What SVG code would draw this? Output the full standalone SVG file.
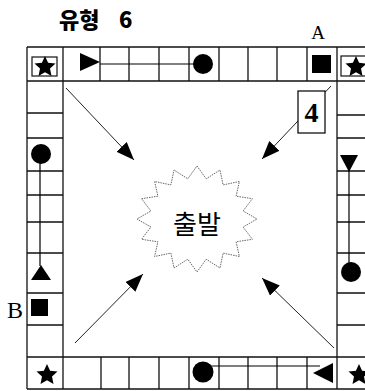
<svg xmlns="http://www.w3.org/2000/svg" width="365" height="391" viewBox="0 0 365 391">
<style>
.g{stroke:#111;stroke-width:1.3;fill:none}
.f{fill:#000;stroke:none}
.c{stroke:#000;stroke-width:1.2;fill:none}
.a{stroke:#222;stroke-width:1;fill:none}
.lbl{font-family:"Liberation Serif","DejaVu Serif",serif;fill:#000}
.kr{font-family:"Noto Sans CJK KR","Noto Sans",sans-serif;fill:#000}
</style>
<defs>
<path id="star" d="M0,-11 L3.1,-4.2 L10.5,-3.4 L5,1.6 L6.5,9 L0,5.2 L-6.5,9 L-5,1.6 L-10.5,-3.4 L-3.1,-4.2 Z"/>
<marker id="ah" viewBox="0 0 18 14" refX="18" refY="7" markerWidth="18" markerHeight="14" markerUnits="userSpaceOnUse" orient="auto">
<path d="M0,0 L18,7 L0,14 Z" fill="#000"/>
</marker>
</defs>
<rect width="365" height="391" fill="#fff"/>
<text id="title" class="kr" x="59" y="28" font-size="22" font-weight="900">유형<tspan x="119">6</tspan></text>
<text id="labelA" class="lbl" x="318" y="39" font-size="19" text-anchor="middle">A</text>
<text id="labelB" class="lbl" x="15" y="318" font-size="24" text-anchor="middle">B</text>
<g id="board">
<line class="g" x1="27" y1="47" x2="365" y2="47"/>
<line class="g" x1="27" y1="81" x2="365" y2="81"/>
<line class="g" x1="27" y1="357" x2="365" y2="357"/>
<line class="g" x1="27" y1="389" x2="365" y2="389"/>
<line class="g" x1="27" y1="47" x2="27" y2="389"/>
<line class="g" x1="63" y1="47" x2="63" y2="389"/>
<line class="g" x1="337" y1="47" x2="337" y2="389"/>
<path class="g" d="M100,47V81 M129,47V81 M159,47V81 M189,47V81 M219,47V81 M248,47V81 M277,47V81 M307,47V81"/>
<path class="g" d="M101,357V389 M129,357V389 M159,357V389 M189,357V389 M219,357V389 M248,357V389 M277,357V389 M307,357V389"/>
<path class="g" d="M27,113H63 M27,138H63 M27,171H63 M27,195H63 M27,222H63 M27,253H63 M27,293H63 M27,325H63"/>
<path class="g" d="M337,115H365 M337,138H365 M337,171H365 M337,195H365 M337,222H365 M337,253H365 M337,293H365 M337,325H365"/>
</g>
<g id="corner-tl">
<rect x="32" y="57" width="25" height="19" fill="none" stroke="#111" stroke-width="1.2"/>
<use href="#star" x="45" y="67" class="f"/>
</g>
<g id="corner-tr">
<rect x="341" y="56" width="30" height="20" fill="none" stroke="#111" stroke-width="1.2"/>
<use href="#star" x="356" y="67" class="f"/>
</g>
<g id="corner-bl"><use href="#star" x="47" y="375" class="f"/></g>
<g id="corner-br"><use href="#star" x="359" y="375" class="f"/></g>
<g id="top-path">
<line class="c" x1="100" y1="64" x2="195" y2="64"/>
<polygon class="f" points="80,53 80,71 100,62"/>
<circle class="f" cx="203" cy="64" r="10"/>
</g>
<g id="top-square"><rect class="f" x="312" y="55" width="19" height="18"/></g>
<g id="left-path">
<line class="c" x1="40" y1="154" x2="40" y2="266"/>
<circle class="f" cx="41" cy="154" r="10"/>
<polygon class="f" points="41,265 31,280 51,280"/>
</g>
<g id="left-square"><rect class="f" x="31" y="299" width="17" height="17"/></g>
<g id="right-path">
<line class="c" x1="349" y1="170" x2="349" y2="272"/>
<polygon class="f" points="340,155 358,155 349,172"/>
<circle class="f" cx="351" cy="272" r="10"/>
</g>
<g id="bottom-path">
<line class="c" x1="203" y1="366" x2="320" y2="366"/>
<circle class="f" cx="203" cy="372" r="10.5"/>
<polygon class="f" points="313,373 333,363 333,383"/>
</g>
<g id="connectors">
<line class="a" x1="66" y1="88" x2="134" y2="160" marker-end="url(#ah)"/>
<line class="a" x1="331" y1="86" x2="262" y2="159" marker-end="url(#ah)"/>
<line class="a" x1="75" y1="343" x2="143" y2="274" marker-end="url(#ah)"/>
<line class="a" x1="334" y1="348" x2="262" y2="278" marker-end="url(#ah)"/>
</g>
<g id="card4">
<rect x="298" y="91" width="27" height="42" fill="#fff" stroke="#111" stroke-width="1.3"/>
<text class="lbl" x="311.5" y="122" font-size="28" font-weight="bold" text-anchor="middle">4</text>
</g>
<g id="start">
<polygon points="197,166 206.2,178.8 220,170 223.1,184.9 239.4,181.5 236.1,196.2 252.4,198.7 243.1,211 257,219 243.1,227 252.4,239.3 236.1,241.8 239.4,256.5 223.1,253.1 220,268 206.2,259.2 197,272 187.8,259.2 174,268 170.9,253.1 154.6,256.5 157.9,241.8 141.6,239.3 150.9,227 137,219 150.9,211 141.6,198.7 157.9,196.2 154.6,181.5 170.9,184.9 174,170 187.8,178.8" fill="#fff" stroke="#666" stroke-width="1" stroke-dasharray="1.5,1"/>
<text class="kr" x="197" y="234" font-size="26" text-anchor="middle">출발</text>
</g>
</svg>
